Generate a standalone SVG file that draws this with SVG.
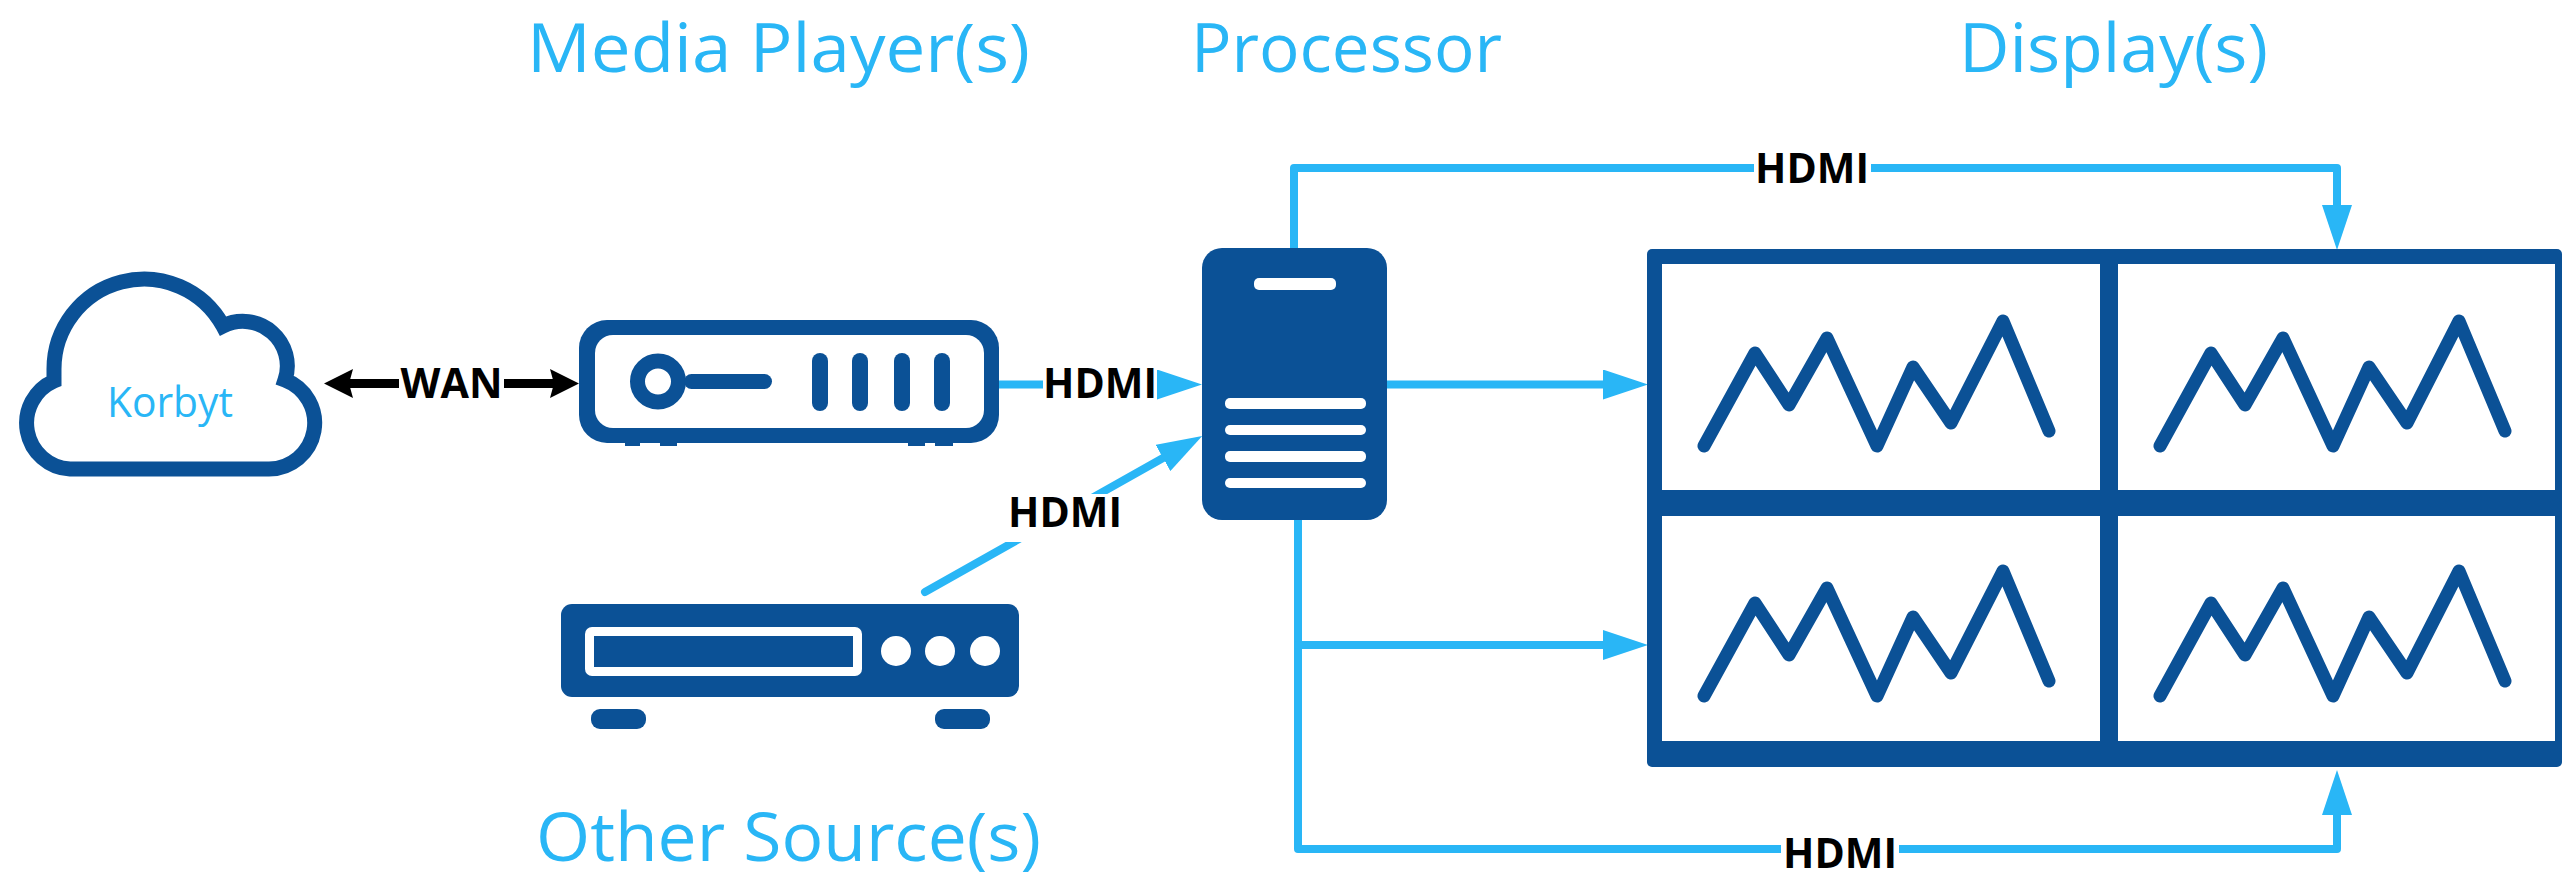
<svg xmlns="http://www.w3.org/2000/svg" width="2562" height="878" viewBox="0 0 2562 878">
<style>
.b{fill:#0B5196}
.w{fill:#fff}
.t{font-family:"Open Sans","Noto Sans",sans-serif;fill:#29B6F6;font-size:68px}
.l{font-family:"Open Sans","Noto Sans",sans-serif;font-weight:700;fill:#000;font-size:41px;text-anchor:middle}
.c{fill:none;stroke:#29B6F6;stroke-width:8;stroke-linejoin:round;stroke-linecap:round}
.k{fill:none;stroke:#000;stroke-width:9}
.z{fill:none;stroke:#0B5196;stroke-width:13;stroke-linejoin:round;stroke-linecap:round}
</style>
<defs>
<marker id="ah" markerUnits="userSpaceOnUse" markerWidth="45" markerHeight="30" viewBox="0 0 45 30" refX="0" refY="15" orient="auto"><path d="M0 0L45 15L0 30Z" fill="#29B6F6"/></marker>
<marker id="ak" markerUnits="userSpaceOnUse" markerWidth="29" markerHeight="29" viewBox="0 0 29 29" refX="4" refY="14.5" orient="auto"><path d="M0 0L29 14.5L0 29L4 14.5Z" fill="#000"/></marker>
<polyline id="zz" class="z" points="1704,446 1755,353 1789,405 1827,338 1877,446 1913,367 1951,423 2003,321 2049,431"/>
</defs>
<g id="titles">
<text class="t" x="527" y="72" textLength="503" lengthAdjust="spacingAndGlyphs">Media Player(s)</text>
<text class="t" x="1191" y="72" textLength="311" lengthAdjust="spacingAndGlyphs">Processor</text>
<text class="t" x="1959" y="72" textLength="309" lengthAdjust="spacingAndGlyphs">Display(s)</text>
<text class="t" x="536" y="861" textLength="505" lengthAdjust="spacingAndGlyphs">Other Source(s)</text>
</g>
<g id="connectors">
<path class="c" d="M1294 248V168H2337V205" marker-end="url(#ah)"/>
<path class="c" d="M1298 520V849H2337V815" marker-end="url(#ah)"/>
<path class="c" d="M1298 645H1603" marker-end="url(#ah)"/>
<path class="c" d="M1387 384.500H1603" marker-end="url(#ah)"/>
<path class="c" d="M999 384.500H1157" marker-end="url(#ah)"/>
<path class="c" d="M925 592L1163 458" marker-end="url(#ah)"/>
<path class="k" d="M399 383.500H349" marker-end="url(#ak)"/>
<path class="k" d="M504 383.500H554" marker-end="url(#ak)"/>
</g>
<g id="cloud">
<path d="M70 469H269A46 46 0 0 0 285 380A44.500 44.500 0 0 0 223 326A90 90 0 0 0 54 370L54 381A46 46 0 0 0 70 469Z" fill="#fff" stroke="#0B5196" stroke-width="15"/>
<text x="107" y="417" font-family="Open Sans,Noto Sans,sans-serif" font-size="42" fill="#29B6F6" textLength="126" lengthAdjust="spacingAndGlyphs">Korbyt</text>
</g>
<g id="media-player">
<path class="b" d="M625 440h15v6h-15zM660 440h17v6h-17zM908 440h17v6h-17zM935 440h18v6h-18z"/>
<rect class="b" x="579" y="320" width="420" height="123" rx="28"/>
<rect class="w" x="595" y="335" width="389" height="93" rx="18"/>
<circle cx="658" cy="381.500" r="20.500" fill="#fff" stroke="#0B5196" stroke-width="15"/>
<rect class="b" x="684" y="374" width="88" height="15" rx="7.500"/>
<rect class="b" x="812" y="353" width="16" height="58" rx="8"/>
<rect class="b" x="852" y="353" width="16" height="58" rx="8"/>
<rect class="b" x="894" y="353" width="16" height="58" rx="8"/>
<rect class="b" x="934" y="353" width="16" height="58" rx="8"/>
</g>
<g id="other-source">
<rect class="b" x="561" y="604" width="458" height="93" rx="11"/>
<rect class="w" x="585" y="627" width="277" height="49" rx="7"/>
<rect class="b" x="594" y="636" width="259" height="31"/>
<circle class="w" cx="896" cy="651" r="15"/>
<circle class="w" cx="940" cy="651" r="15"/>
<circle class="w" cx="985" cy="651" r="15"/>
<rect class="b" x="591" y="709" width="55" height="20" rx="9"/>
<rect class="b" x="935" y="709" width="55" height="20" rx="9"/>
</g>
<g id="processor">
<rect class="b" x="1202" y="248" width="185" height="272" rx="20"/>
<rect class="w" x="1254" y="278" width="82" height="12" rx="5"/>
<rect class="w" x="1225" y="398" width="141" height="11" rx="5"/>
<rect class="w" x="1225" y="425" width="141" height="10" rx="5"/>
<rect class="w" x="1225" y="451" width="141" height="11" rx="5"/>
<rect class="w" x="1225" y="478" width="141" height="10" rx="5"/>
</g>
<g id="display">
<rect class="b" x="1647" y="249" width="915" height="518" rx="5"/>
<rect class="w" x="1662" y="264" width="438" height="226"/>
<rect class="w" x="2118" y="264" width="437" height="226"/>
<rect class="w" x="1662" y="516" width="438" height="225"/>
<rect class="w" x="2118" y="516" width="437" height="225"/>
<use href="#zz"/>
<use href="#zz" x="456"/>
<use href="#zz" y="250"/>
<use href="#zz" x="456" y="250"/>
</g>
<g id="labels">
<text class="l" x="451.500" y="398" textLength="102" lengthAdjust="spacingAndGlyphs">WAN</text>
<rect class="w" x="1043" y="364" width="114" height="38"/>
<text class="l" x="1100" y="398">HDMI</text>
<rect class="w" x="1004" y="494" width="122" height="48"/>
<text class="l" x="1065" y="527">HDMI</text>
<rect class="w" x="1754" y="150" width="117" height="36"/>
<text class="l" x="1812" y="183">HDMI</text>
<rect class="w" x="1781" y="835" width="118" height="36"/>
<text class="l" x="1840" y="868">HDMI</text>
</g>
</svg>
